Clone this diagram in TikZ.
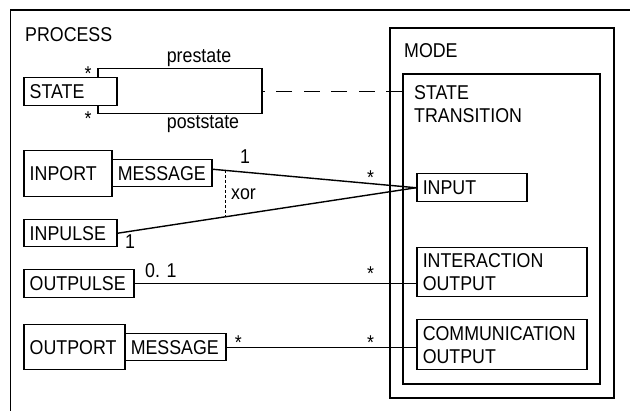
\documentclass[tikz,border=0pt]{standalone}
\usepackage{fontspec}
\setmainfont{Liberation Sans}[FakeStretch=0.89]
\begin{document}
\begin{tikzpicture}[x=1pt,y=-1pt,
  every node/.style={font=\fontsize{20}{23}\selectfont, inner sep=0pt},
  box/.style={draw, fill=white, line width=1.5pt, inner xsep=6pt, inner ysep=0pt, align=left, anchor=north west},
  frame/.style={draw, line width=1.7pt, anchor=north west},
  lbl/.style={anchor=base, inner sep=0pt},
  lblw/.style={anchor=base west, inner sep=0pt},
  conn/.style={line width=1.4pt},
  longdash/.style={line width=1.4pt, dash pattern=on 16pt off 11.5pt},
  shortdash/.style={line width=1.1pt, dash pattern=on 3pt off 2pt},
]
\useasboundingbox (0,0) rectangle (630,411);
\clip (0,0) rectangle (630,411);
% outer frame
\node[frame, minimum width=640, minimum height=420] (process) at (9.5,9) {};
\node[lblw] (proclbl) at (25,42) {PROCESS};
% mode
\node[frame, minimum width=224, minimum height=370] (mode) at (389,27) {};
\node[lblw] (modelbl) at (404,58) {MODE};
\node[frame, minimum width=197, minimum height=310] (sttr) at (402,73) {};
\node[anchor=north west, align=left] (sttrlbl) at (414,85.7) {STATE\\TRANSITION};
\node[box, minimum width=110, minimum height=28, text width=98] (input) at (416,173) {INPUT};
\node[box, minimum width=170, minimum height=49, text width=158] (inter) at (416,247) {INTERACTION\\OUTPUT};
\node[box, minimum width=170, minimum height=50, text width=158] (comm) at (416,319) {COMMUNICATION\\OUTPUT};
% state
\node[box, fill=none, minimum width=164, minimum height=45] (trans) at (97,68) {};
\node[box, minimum width=93, minimum height=28, text width=81] (stbox) at (23,77) {STATE};
\node[lbl] (s1) at (88,80.5) {*};
\node[lbl] (s2) at (88,125.5) {*};
\node[lbl] (pre) at (199,63) {prestate};
\node[lbl] (post) at (203,129) {poststate};
\draw[longdash] (trans.east -| sttr.west) -- (trans.east);
% inport
\node[box, minimum width=88, minimum height=46, text width=76] (inport) at (23,150) {INPORT};
\node[box, minimum width=100, minimum height=27, text width=88] (msgin) at (111,159) {MESSAGE};
\node[box, minimum width=93, minimum height=27, text width=81] (inpulse) at (23,219) {INPULSE};
\draw[conn] ([yshift=4pt]msgin.east) -- coordinate[pos=0.0634] (xa) (input.west);
\draw[conn] (inpulse.east) -- coordinate[pos=0.36] (xb) (input.west);
\draw[shortdash] (xa) -- (xa |- xb);
\node[lblw] (xorlbl) at (231,200) {xor};
\node[lbl] (one1) at (245,164) {1};
\node[lbl] (one2) at (130,249) {1};
\node[lbl] (s3) at (370.5,185) {*};
% outpulse
\node[box, minimum width=110, minimum height=28, text width=98] (outpulse) at (23,269) {OUTPULSE};
\draw[conn] (outpulse.east) -- (outpulse.east -| inter.west);
\node[lblw] (zo) at (145,278) {0. 1};
\node[lbl] (s4) at (370.5,280.5) {*};
% outport
\node[box, minimum width=101, minimum height=45, text width=89] (outport) at (23,324) {OUTPORT};
\node[box, minimum width=101, minimum height=27, text width=89] (msgout) at (124,333) {MESSAGE};
\draw[conn] (msgout.east) -- (msgout.east -| comm.west);
\node[lbl] (s5) at (238.3,350) {*};
\node[lbl] (s6) at (370.5,350) {*};
\end{tikzpicture}
\end{document}
